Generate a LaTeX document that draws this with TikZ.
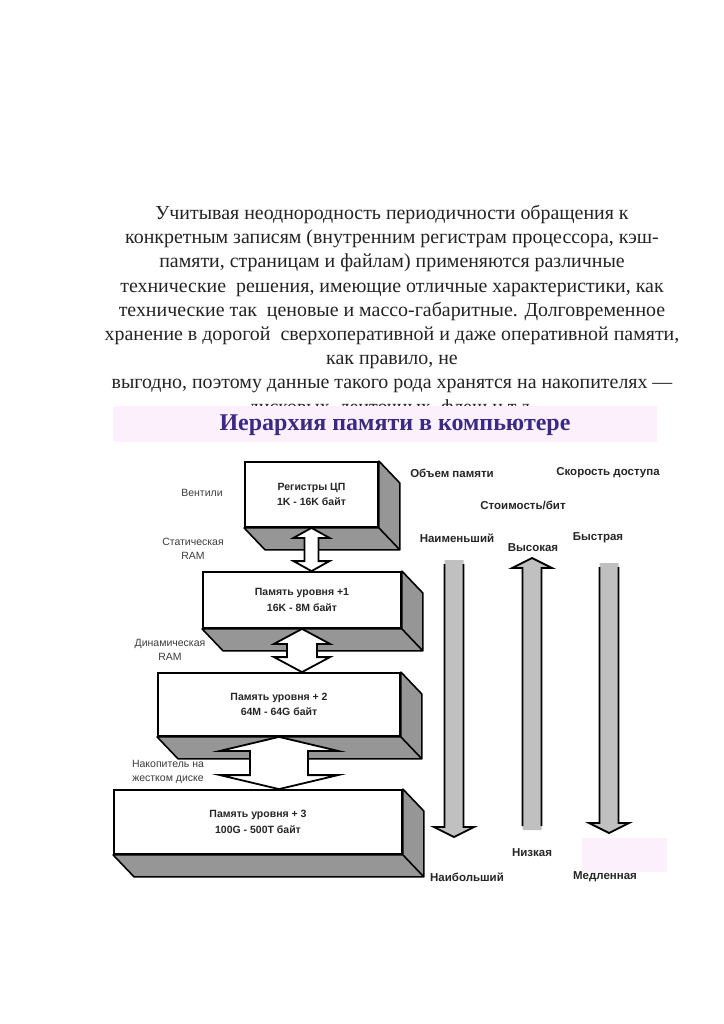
\documentclass[tikz,border=0pt]{standalone}
\usepackage{fontspec}
\setmainfont{Liberation Serif}
\setsansfont{Liberation Sans}
\usepackage{tikz}
\usetikzlibrary{calc}
\definecolor{TitleInk}{RGB}{58,42,132}
\definecolor{BandPink}{RGB}{251,240,251}
\definecolor{FaceGray}{RGB}{150,150,150}
\definecolor{ScaleGray}{RGB}{192,192,192}
\definecolor{LabelInk}{RGB}{60,60,60}
\definecolor{ParaInk}{RGB}{35,35,35}

% white double arrow between two stacked boxes
\newcommand{\linkarrow}[5]{%
  \draw[linkstyle] let \p1=(#1.south), \p2=(#2.north) in
    (\x1,\y1) -- (\x1+#4,\y1-#5) -- (\x1+#3,\y1-#5) -- (\x1+#3,\y2+#5)
    -- (\x1+#4,\y2+#5) -- (\x1,\y2) -- (\x1-#4,\y2+#5) -- (\x1-#3,\y2+#5)
    -- (\x1-#3,\y1-#5) -- (\x1-#4,\y1-#5) -- cycle;}

% gray scale arrow from tail #1 to tip #2
\newcommand{\scalearrow}[2]{%
  \fill[ScaleGray] let \p1=(#1), \p2=(#2), \n1={ifthenelse(\y1>\y2,1,-1)} in
    (\x1-9.5,\y1) -- (\x1-9.5,\y2+10*\n1) -- (\x1-20,\y2+10*\n1) -- (\x2,\y2)
    -- (\x1+20,\y2+10*\n1) -- (\x1+9.5,\y2+10*\n1) -- (\x1+9.5,\y1) -- cycle;
  \draw[scaleedge] let \p1=(#1), \p2=(#2), \n1={ifthenelse(\y1>\y2,1,-1)} in
    (\x1-9.5,\y1-4*\n1) -- (\x1-9.5,\y2+10*\n1) -- (\x1-20,\y2+10*\n1) -- (\x2,\y2)
    -- (\x1+20,\y2+10*\n1) -- (\x1+9.5,\y2+10*\n1) -- (\x1+9.5,\y1-4*\n1);}

\begin{document}
\begin{tikzpicture}[x=1pt, y=-1pt,
  para/.style={anchor=base, inner sep=0pt, text=ParaInk,
               font=\fontsize{19.9}{24}\selectfont},
  level/.style={draw, line width=1.8pt, fill=white, align=center,
                text=black!85, font=\sffamily\bfseries\fontsize{10.5}{15.5}\selectfont},
  face/.style={draw, line width=1.6pt, fill=FaceGray, line join=round},
  linkstyle/.style={draw, line width=1.8pt, fill=white, line join=miter},
  scaleedge/.style={draw, line width=1.8pt, line join=miter},
  tech/.style={align=center, text=LabelInk,
               font=\sffamily\fontsize{10.5}{14}\selectfont},
  axis/.style={text=black!85, font=\sffamily\bfseries\fontsize{11.5}{14}\selectfont}
]
\fill[white] (0,0) rectangle (723,1024);
\useasboundingbox (0,0) rectangle (723,1024);

% running text above the figure
\foreach \ln [count=\i] in {
  {Учитывая неоднородность периодичности обращения к},
  {конкретным записям (внутренним регистрам процессора, кэш-},
  {памяти, страницам и файлам) применяются различные},
  {технические~ решения, имеющие отличные характеристики, как},
  {технические так~ ценовые и массо-габаритные. Долговременное},
  {хранение в дорогой~ сверхоперативной и даже оперативной памяти,},
  {как правило, не},
  {выгодно, поэтому данные такого рода хранятся на накопителях —}}
  \node[para] (line\i) at (392, 195.3+24.2*\i) {\ln};
% last line is cut by the title band
\begin{scope}
  \clip (0,380) rectangle (723,406);
  \node[para] (line9) at (392,413) {дисковых, ленточных, флеш и т.д.};
\end{scope}

% title band
\fill[BandPink] (113,406) rectangle (657,442);
\node[text=TitleInk, font=\bfseries\fontsize{24}{28}\selectfont] (title) at (395,425)
  {Иерархия памяти в компьютере};

% memory levels
\node[level, minimum width=133, minimum height=65] (reg) at (311.5,494.5)
  {Регистры ЦП\\1K - 16K байт};
\node[level, minimum width=198, minimum height=56] (lvl1) at (302,600)
  {Память уровня +1\\16K - 8M байт};
\node[level, minimum width=242, minimum height=63] (lvl2) at (279,704.5)
  {Память уровня + 2\\64M - 64G байт};
\node[level, minimum width=288, minimum height=64] (lvl3) at (258,822)
  {Память уровня + 3\\100G - 500T байт};

\foreach \b in {reg,lvl1,lvl2,lvl3}
  \draw[face] (\b.south west) -- ++(21,22) -- ($(\b.south east)+(21,22)$)
    -- ($(\b.north east)+(21,22)$) -- (\b.north east) -- (\b.south east) -- cycle
    (\b.south east) -- ++(21,22);

\linkarrow{reg}{lvl1}{7}{18}{10}
\linkarrow{lvl1}{lvl2}{15}{28}{15}
\linkarrow{lvl2}{lvl3}{29}{59}{14}

% technologies
\node[tech] (gates) at (202,493) {Вентили};
\node[tech] (sram) at (193,549) {Статическая\\RAM};
\node[tech] (dram) at (170,650) {Динамическая\\RAM};
\node[tech] (hdd) at (168,772) {Накопитель на\\жестком диске};

% scales
\node[axis] (vol) at (452,473) {Объем памяти};
\node[axis] (speed) at (608,473) {Скорость доступа};
\node[axis] (cost) at (523,505) {Стоимость/бит};
\node[axis] (least) at (457,538) {Наименьший};
\node[axis] (high) at (533,548) {Высокая};
\node[axis] (fast) at (598,538) {Быстрая};

\coordinate (volT) at (454,560);
\coordinate (volH) at (454,837);
\coordinate (costT) at (532,830);
\coordinate (costH) at (532,558);
\coordinate (speedT) at (609,563);
\coordinate (speedH) at (609,833);
\scalearrow{volT}{volH}
\scalearrow{costT}{costH}
\scalearrow{speedT}{speedH}

\fill[BandPink] (582,838) rectangle (667,872);
\node[axis] (low) at (532,853) {Низкая};
\node[axis] (most) at (467,877) {Наибольший};
\node[axis] (slow) at (605,877) {Медленная};
\end{tikzpicture}
\end{document}
